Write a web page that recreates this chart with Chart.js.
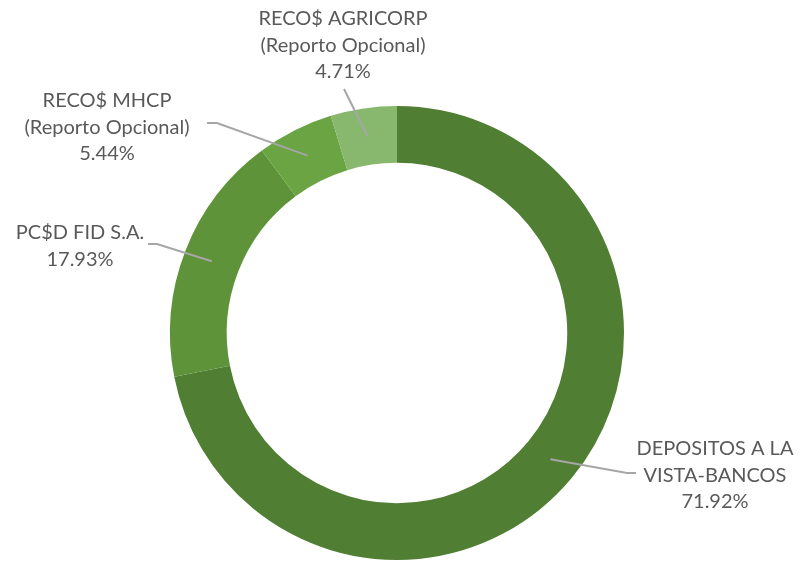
<!DOCTYPE html>
<html>
<head>
<meta charset="utf-8">
<script src="https://cdn.jsdelivr.net/npm/chart.js@4"></script>
<style>
  body { margin: 0; background: #fff; }
</style>
</head>
<body>
<canvas id="chart" width="808" height="563"></canvas>
<script>
var labels = [
    ['DEPOSITOS A LA', 'VISTA-BANCOS'],
    ['PC$D FID S.A.'],
    ['RECO$ MHCP', '(Reporto Opcional)'],
    ['RECO$ AGRICORP', '(Reporto Opcional)']
];
var shares = [71.92, 17.93, 5.44, 4.71];
var colors = ['#507E32', '#5E9339', '#6AA443', '#88B86E'];

// where each label sits and how its leader line bends (layout only)
var labelSpots = [
    { x: 715, y: 449, elbow: [627, 473], end: [636, 473] },
    { x: 80, y: 233, elbow: [157, 244], end: [148, 244] },
    { x: 107, y: 101, elbow: [217, 123], end: [207, 123] },
    { x: 343, y: 19, elbow: null, end: [344, 89] }
];

var calloutPlugin = {
    id: 'callouts',
    afterDatasetsDraw(chart) {
        var c = chart.ctx;
        var meta = chart.getDatasetMeta(0);
        c.save();
        meta.data.forEach((arc, i) => {
            var spot = labelSpots[i];
            var mid = (arc.startAngle + arc.endAngle) / 2;
            var r = arc.innerRadius + (arc.outerRadius - arc.innerRadius) * 0.5;
            var sx = arc.x + Math.cos(mid) * r;
            var sy = arc.y + Math.sin(mid) * r;
            c.strokeStyle = '#A6A6A6';
            c.lineWidth = 2;
            c.beginPath();
            c.moveTo(sx, sy);
            if (spot.elbow) c.lineTo(spot.elbow[0], spot.elbow[1]);
            c.lineTo(spot.end[0], spot.end[1]);
            c.stroke();

            var lines = labels[i].concat([shares[i].toFixed(2) + '%']);
            c.fillStyle = '#595959';
            c.font = '20px Lato, "Open Sans", sans-serif';
            c.textAlign = 'center';
            c.textBaseline = 'middle';
            lines.forEach((t, k) => {
                c.fillText(t, spot.x, spot.y + k * 26.5);
            });
        });
        c.restore();
    }
};

new Chart(document.getElementById('chart').getContext('2d'), {
    type: 'doughnut',
    data: {
        labels: labels.map(l => l.join(' ')),
        datasets: [{
            data: shares,
            backgroundColor: colors,
            borderWidth: 0
        }]
    },
    options: {
        responsive: false,
        animation: false,
        cutout: '75%',
        layout: {
            padding: { left: 170, right: 184, top: 106, bottom: 3 }
        },
        plugins: {
            legend: { display: false },
            tooltip: { enabled: false }
        }
    },
    plugins: [calloutPlugin]
});
</script>
</body>
</html>
